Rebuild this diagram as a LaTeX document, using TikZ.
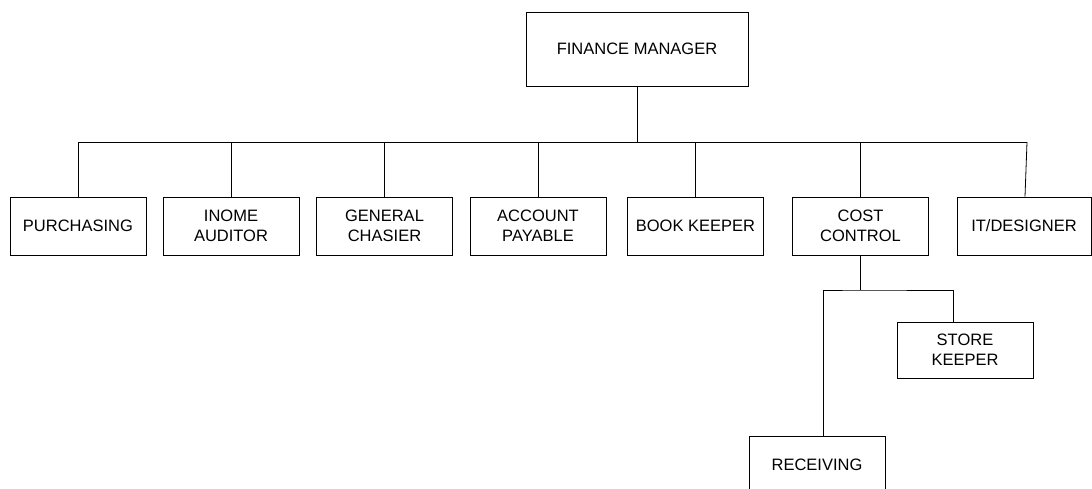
\documentclass[tikz,border=0pt]{standalone}
\usepackage{fontspec}
\setmainfont{Liberation Sans}
\tikzset{
  unit/.style={draw, line width=0.8pt, minimum width=136pt, minimum height=58pt,
    inner sep=0pt, align=center, font=\fontsize{16.5}{20}\selectfont},
  link/.style={line width=0.8pt}
}
\begin{document}
\begin{tikzpicture}[x=1pt, y=-1pt]
    \useasboundingbox (0,0) rectangle (1092,489);
    \clip (0,0) rectangle (1092,489);
    \node[unit, minimum width=222pt, minimum height=74pt] (fm) at (637,49) {FINANCE MANAGER};
    % second level
    \node[unit] (purch) at (78,226) {PURCHASING};
    \node[unit] (inome) at (231,226) {INOME\\AUDITOR};
    \node[unit] (gen) at (384.5,226) {GENERAL\\CHASIER};
    \node[unit] (acc) at (538,226) {ACCOUNT\\PAYABLE};
    \node[unit] (book) at (695.5,226) {BOOK KEEPER};
    \node[unit] (cost) at (860.5,226) {COST\\CONTROL};
    \node[unit, minimum width=134pt] (it) at (1024,226) {IT/DESIGNER};
    % under cost control
    \node[unit, minimum height=56pt] (store) at (965,350) {STORE\\KEEPER};
    \node[unit] (rec) at (817,465) {RECEIVING};
    \coordinate (bus) at (637,142);
    \coordinate (sub) at (861,290);
    \draw[link] (fm.south) -- (bus);
    \draw[link] (purch.north |- bus) -- ([xshift=3pt]it.north |- bus);
    \foreach \n in {purch, inome, gen, acc, book, cost}
      \draw[link] (\n.north) -- (\n.north |- bus);
    \draw[link] ([xshift=1pt]it.north) -- ([xshift=3pt]it.north |- bus);
    \draw[link] (cost.south) -- (cost.south |- sub);
    \draw[link] ([xshift=6pt]rec.north) |- (sub) -| ([xshift=-12pt]store.north);
\end{tikzpicture}
\end{document}
